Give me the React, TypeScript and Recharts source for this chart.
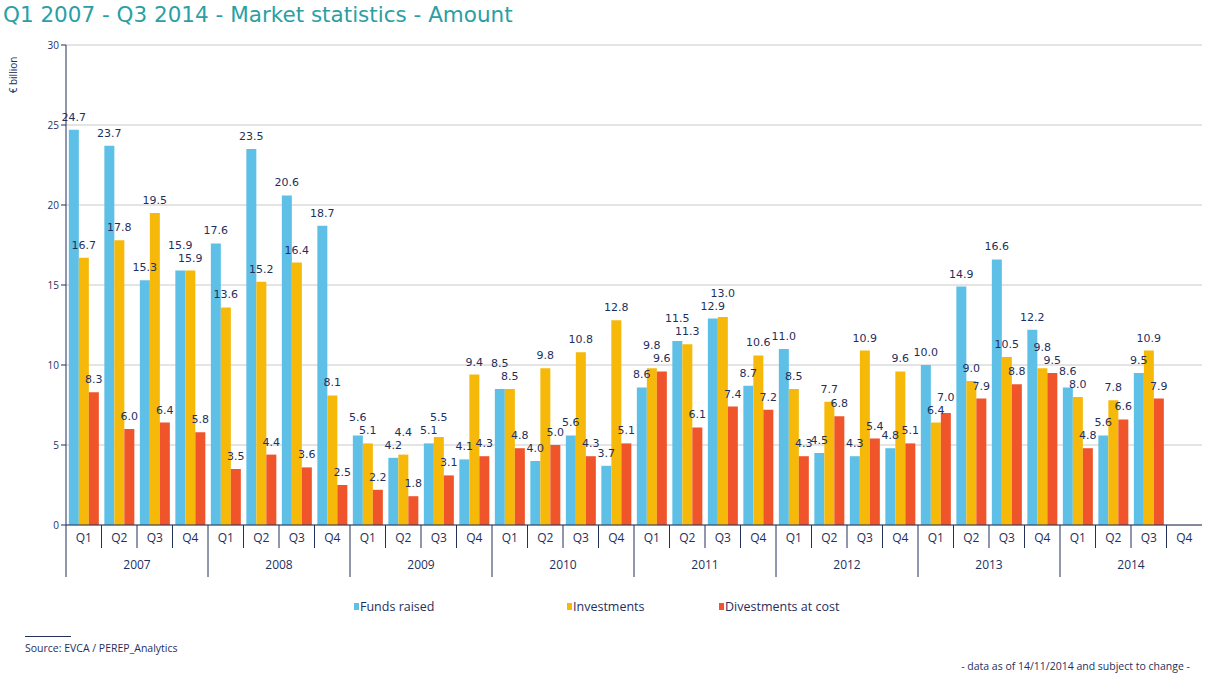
import { Bar, BarChart, CartesianGrid, LabelList, Legend, XAxis, YAxis } from "recharts";

const YEARS = ["2007", "2008", "2009", "2010", "2011", "2012", "2013", "2014"];
const QUARTERS = ["Q1", "Q2", "Q3", "Q4"];

const FUNDS_RAISED = [
  24.7, 23.7, 15.3, 15.9,
  17.6, 23.5, 20.6, 18.7,
  5.6, 4.2, 5.1, 4.1,
  8.5, 4.0, 5.6, 3.7,
  8.6, 11.5, 12.9, 8.7,
  11.0, 4.5, 4.3, 4.8,
  10.0, 14.9, 16.6, 12.2,
  8.6, 5.6, 9.5, null,
];

const INVESTMENTS = [
  16.7, 17.8, 19.5, 15.9,
  13.6, 15.2, 16.4, 8.1,
  5.1, 4.4, 5.5, 9.4,
  8.5, 9.8, 10.8, 12.8,
  9.8, 11.3, 13.0, 10.6,
  8.5, 7.7, 10.9, 9.6,
  6.4, 9.0, 10.5, 9.8,
  8.0, 7.8, 10.9, null,
];

const DIVESTMENTS = [
  8.3, 6.0, 6.4, 5.8,
  3.5, 4.4, 3.6, 2.5,
  2.2, 1.8, 3.1, 4.3,
  4.8, 5.0, 4.3, 5.1,
  9.6, 6.1, 7.4, 7.2,
  4.3, 6.8, 5.4, 5.1,
  7.0, 7.9, 8.8, 9.5,
  4.8, 6.6, 7.9, null,
];

const Y_TICKS = [0, 5, 10, 15, 20, 25, 30];

const SERIES = [
  { key: "funds", name: "Funds raised", color: "#5ec0e6", values: FUNDS_RAISED },
  { key: "investments", name: "Investments", color: "#f6b90a", values: INVESTMENTS },
  { key: "divestments", name: "Divestments at cost", color: "#f0542a", values: DIVESTMENTS },
];

const data = YEARS.flatMap((year, yi) =>
  QUARTERS.map((q, qi) => {
    const i = yi * 4 + qi;
    return {
      id: `${year}-${q}`,
      year,
      quarter: q,
      funds: FUNDS_RAISED[i],
      investments: INVESTMENTS[i],
      divestments: DIVESTMENTS[i],
    };
  })
);

const WIDTH = 1205;
const HEIGHT = 675;
const MARGIN = { top: 45, right: 3, left: 0, bottom: 0 };
const Y_AXIS_WIDTH = 66;
const BAND = (WIDTH - MARGIN.left - MARGIN.right - Y_AXIS_WIDTH) / data.length;

const NAVY = "#1f2f5c";
const AXIS = "#23305a";
const LABEL_GAP = 9; // baseline distance above bar top
const LABEL_STEP = 13; // vertical room one label needs

function QuarterTick(props: any) {
  const { x, y, index, payload } = props;
  const row = data[index];
  const left = x - BAND / 2;
  return (
    <g>
      {index > 0 && index % 4 !== 0 && (
        <line x1={left} x2={left} y1={y} y2={y + 23} stroke={AXIS} strokeWidth={1} />
      )}
      <text
        x={x}
        y={y + 17}
        textAnchor="middle"
        fontSize={12}
        fill={NAVY}
        fontFamily="'Open Sans', sans-serif"
      >
        {row ? row.quarter : payload.value}
      </text>
      {index % 4 === 0 && (
        <>
          <line x1={left} x2={left} y1={y} y2={y + 52} stroke={AXIS} strokeWidth={1} />
          <text
            x={left + BAND * 2}
            y={y + 44}
            textAnchor="middle"
            fontSize={12}
            fill={NAVY}
            fontFamily="'Open Sans', sans-serif"
          >
            {row.year}
          </text>
        </>
      )}
    </g>
  );
}

function UnitLabel(props: any) {
  const { viewBox } = props;
  const x = viewBox.x + 17;
  const y = viewBox.y + 30;
  return (
    <text
      x={x}
      y={y}
      transform={`rotate(-90 ${x} ${y})`}
      textAnchor="middle"
      fontSize={10}
      fill={NAVY}
      fontFamily="'Open Sans', sans-serif"
    >
      € billion
    </text>
  );
}

// value label; lifted when a neighbouring bar of the same quarter would collide
function makeValueLabel(si: number) {
  return (props: any) => {
    const { x, y, width, height, value, index } = props;
    if (value == null) return null;
    const v = Number(value);
    const pxPerUnit = v > 0 ? height / v : 0;
    let base = y - LABEL_GAP;
    for (const ni of [si - 1, si + 1]) {
      const other = SERIES[ni]?.values[index];
      if (other == null) continue;
      const otherBase = y + (v - other) * pxPerUnit - LABEL_GAP;
      const higher = v > other || (v === other && ni > si);
      if (higher && Math.abs(otherBase - base) < LABEL_STEP) {
        base = Math.min(base, otherBase - LABEL_STEP);
      }
    }
    return (
      <text
        x={x + width / 2}
        y={base}
        textAnchor="middle"
        fontSize={11}
        fill={NAVY}
        fontFamily="'DejaVu Sans', sans-serif"
      >
        {v.toFixed(1)}
      </text>
    );
  };
}

function LegendContent() {
  const widths = [213, 152, 160];
  return (
    <div style={{ display: "flex", fontFamily: "'Open Sans', sans-serif", fontSize: 12.5, color: NAVY }}>
      {SERIES.map((s, i) => (
        <div key={s.key} style={{ width: widths[i], display: "flex", alignItems: "center" }}>
          <span style={{ display: "inline-block", width: 5, height: 7, background: s.color, marginRight: 1 }} />
          <span>{s.name}</span>
        </div>
      ))}
    </div>
  );
}

export default function App() {
  return (
    <div style={{ position: "absolute", top: 0, left: 0, width: WIDTH, height: HEIGHT, background: "#fff" }}>
      <div
        style={{
          position: "absolute",
          left: 3,
          top: 2,
          fontFamily: "'DejaVu Sans', sans-serif",
          fontSize: 21.5,
          color: "#2a9fa5",
          whiteSpace: "nowrap",
        }}
      >
        Q1 2007 - Q3 2014 - Market statistics - Amount
      </div>
      <BarChart
        width={WIDTH}
        height={HEIGHT}
        data={data}
        margin={MARGIN}
        barCategoryGap="8%"
        barGap={0}
      >
        <CartesianGrid vertical={false} stroke="#c9c9c9" />
        <XAxis
          dataKey="id"
          interval={0}
          height={HEIGHT - 525 - MARGIN.bottom}
          tickSize={0}
          tickMargin={0}
          tickLine={false}
          axisLine={{ stroke: AXIS }}
          tick={<QuarterTick />}
        />
        <YAxis
          width={Y_AXIS_WIDTH}
          domain={[0, 30]}
          ticks={Y_TICKS}
          tickSize={5}
          tickLine={{ stroke: AXIS }}
          axisLine={{ stroke: AXIS }}
          tick={{ fontSize: 10, fill: NAVY, fontFamily: "'Open Sans', sans-serif" }}
          label={<UnitLabel />}
        />
        <Legend
          layout="horizontal"
          verticalAlign="middle"
          align="center"
          wrapperStyle={{ top: 598, left: 354, width: 560 }}
          content={<LegendContent />}
        />
        {SERIES.map((s, si) => (
          <Bar key={s.key} dataKey={s.key} name={s.name} fill={s.color} isAnimationActive={false}>
            <LabelList dataKey={s.key} content={makeValueLabel(si)} />
          </Bar>
        ))}
      </BarChart>
      <div style={{ position: "absolute", left: 25, top: 636, width: 46, borderTop: `1px solid ${AXIS}` }} />
      <div
        style={{
          position: "absolute",
          left: 25,
          top: 641,
          fontFamily: "'Open Sans', sans-serif",
          fontSize: 10.5,
          color: NAVY,
          whiteSpace: "nowrap",
        }}
      >
        Source: EVCA / PEREP_Analytics
      </div>
      <div
        style={{
          position: "absolute",
          right: 15,
          top: 659,
          fontFamily: "'Open Sans', sans-serif",
          fontSize: 10.5,
          color: NAVY,
          whiteSpace: "nowrap",
        }}
      >
        - data as of 14/11/2014 and subject to change -
      </div>
    </div>
  );
}
